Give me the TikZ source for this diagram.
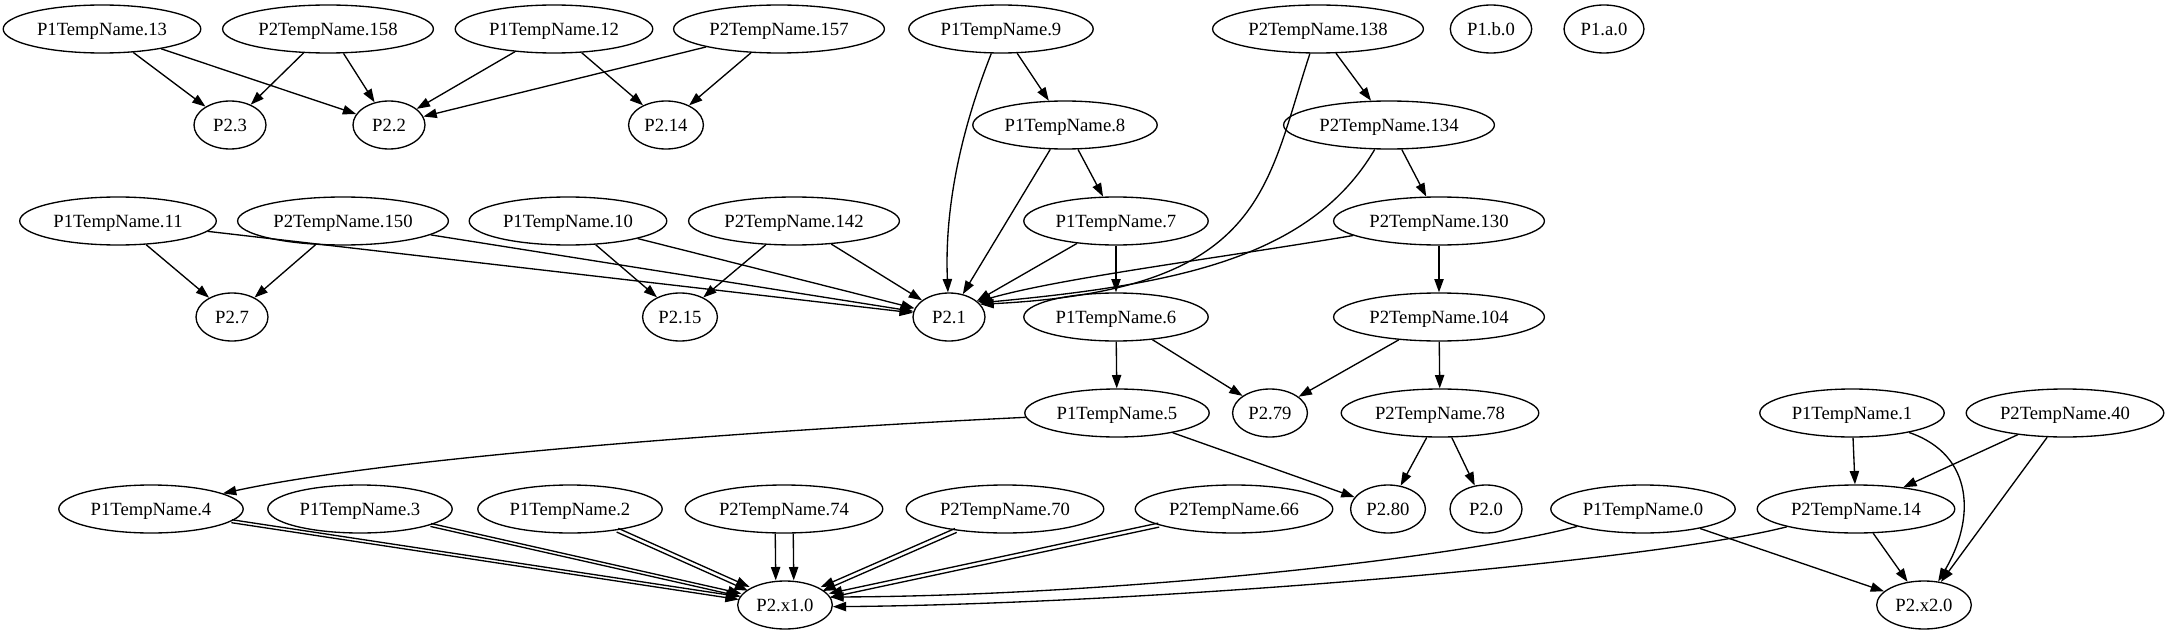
\documentclass[tikz,border=0pt]{standalone}
\usepackage{fontspec}
\setmainfont{Liberation Serif}
\usetikzlibrary{arrows.meta,shapes.geometric}
\definecolor{dagInk}{HTML}{000000}
\tikzset{
  every picture/.style={font=\fontsize{14}{16}\selectfont, text=dagInk},
  dag node/.style={draw=dagInk, line width=1pt, ellipse, minimum width=54pt,
    minimum height=36pt, inner xsep=3.7pt, inner ysep=2pt,
    text height=9.4pt, text depth=0pt},
  dag edge/.style={-{Triangle[length=10pt,width=7pt]},
    draw=dagInk, line width=1pt},
  dag twin/.style 2 args={transform canvas={xshift=#1, yshift=#2}}
}

\begin{document}
\begin{tikzpicture}[x=0.75pt,y=-0.75pt]
  \useasboundingbox (0,0) rectangle (2168,635);
  \node[dag node] (ta13) at (102,29) {P1TempName.13};
  \node[dag node] (tb158) at (328,29) {P2TempName.158};
  \node[dag node] (ta12) at (554,29) {P1TempName.12};
  \node[dag node] (tb157) at (779,29) {P2TempName.157};
  \node[dag node] (ta9) at (1001,29) {P1TempName.9};
  \node[dag node] (tb138) at (1318,29) {P2TempName.138};
  \node[dag node] (pb0) at (1491,29) {P1.b.0};
  \node[dag node] (pa0) at (1604,29) {P1.a.0};
  \node[dag node] (q3) at (230,125) {P2.3};
  \node[dag node] (q2) at (389,125) {P2.2};
  \node[dag node] (q14) at (666,125) {P2.14};
  \node[dag node] (ta8) at (1065,125) {P1TempName.8};
  \node[dag node] (tb134) at (1389,125) {P2TempName.134};
  \node[dag node] (ta11) at (118,221) {P1TempName.11};
  \node[dag node] (tb150) at (343,221) {P2TempName.150};
  \node[dag node] (ta10) at (568,221) {P1TempName.10};
  \node[dag node] (tb142) at (794,221) {P2TempName.142};
  \node[dag node] (ta7) at (1116,221) {P1TempName.7};
  \node[dag node] (tb130) at (1439,221) {P2TempName.130};
  \node[dag node] (q7) at (232,317) {P2.7};
  \node[dag node] (q15) at (680,317) {P2.15};
  \node[dag node] (q1) at (949,317) {P2.1};
  \node[dag node] (ta6) at (1116,317) {P1TempName.6};
  \node[dag node] (tb104) at (1439,317) {P2TempName.104};
  \node[dag node] (ta5) at (1117,413) {P1TempName.5};
  \node[dag node] (q79) at (1270,413) {P2.79};
  \node[dag node] (tb78) at (1440,413) {P2TempName.78};
  \node[dag node] (ta1) at (1852,413) {P1TempName.1};
  \node[dag node] (tb40) at (2065,413) {P2TempName.40};
  \node[dag node] (ta4) at (151,509) {P1TempName.4};
  \node[dag node] (ta3) at (360,509) {P1TempName.3};
  \node[dag node] (ta2) at (570,509) {P1TempName.2};
  \node[dag node] (tb74) at (784,509) {P2TempName.74};
  \node[dag node] (tb70) at (1005,509) {P2TempName.70};
  \node[dag node] (tb66) at (1234,509) {P2TempName.66};
  \node[dag node] (q80) at (1388,509) {P2.80};
  \node[dag node] (q0) at (1486,509) {P2.0};
  \node[dag node] (ta0) at (1643,509) {P1TempName.0};
  \node[dag node] (tb14) at (1856,509) {P2TempName.14};
  \node[dag node] (qx1) at (785,605) {P2.x1.0};
  \node[dag node] (qx2) at (1924,605) {P2.x2.0};
  \foreach \a/\b in {ta13/q3, ta13/q2, tb158/q3, tb158/q2, ta12/q2, ta12/q14,
    tb157/q2, tb157/q14, ta9/ta8, tb138/tb134, ta8/q1, ta8/ta7, tb134/tb130,
    ta11/q7, ta11/q1, tb150/q7, tb150/q1, ta10/q15, ta10/q1, tb142/q15,
    tb142/q1, ta7/q1, ta7/ta6, tb130/tb104, ta6/ta5, ta6/q79, tb104/q79,
    tb104/tb78, ta5/q80, tb78/q80, tb78/q0, ta1/tb14, tb40/tb14, tb40/qx2,
    ta0/qx2, tb14/qx2}
    \draw[dag edge] (\a) -- (\b);
  \draw[dag edge] (ta9) .. controls (965,120) and (944,200) .. (q1);
  \draw[dag edge] (tb138) .. controls (1265,190) and (1265,290) .. (q1.22);
  \draw[dag edge] (tb134) .. controls (1310,260) and (1170,285) .. (q1.25);
  \draw[dag edge] (tb130) .. controls (1220,258) and (1060,278) .. (q1.28);
  \draw[dag edge] (ta5) .. controls (800,428) and (400,455) .. (ta4);
  \draw[dag edge] (ta1) .. controls (1975,455) and (1975,520) .. (qx2);
  \draw[dag edge] (ta0) .. controls (1450,560) and (1100,596) .. (qx1.10);
  \draw[dag edge] (tb14) .. controls (1650,562) and (1150,604) .. (qx1.-2);
  \foreach \s/\dx/\dy in {ta4/0.2pt/1.1pt, ta3/0.25pt/1.1pt, ta2/0.6pt/1.4pt,
    tb74/6.75pt/0pt, tb70/-0.64pt/1.47pt, tb66/-0.35pt/1.5pt} {
    \draw[dag edge, dag twin={\dx}{\dy}] (\s) -- (qx1);
    \draw[dag edge, dag twin={-1*(\dx)}{-1*(\dy)}] (\s) -- (qx1);
  }
\end{tikzpicture}
\end{document}
